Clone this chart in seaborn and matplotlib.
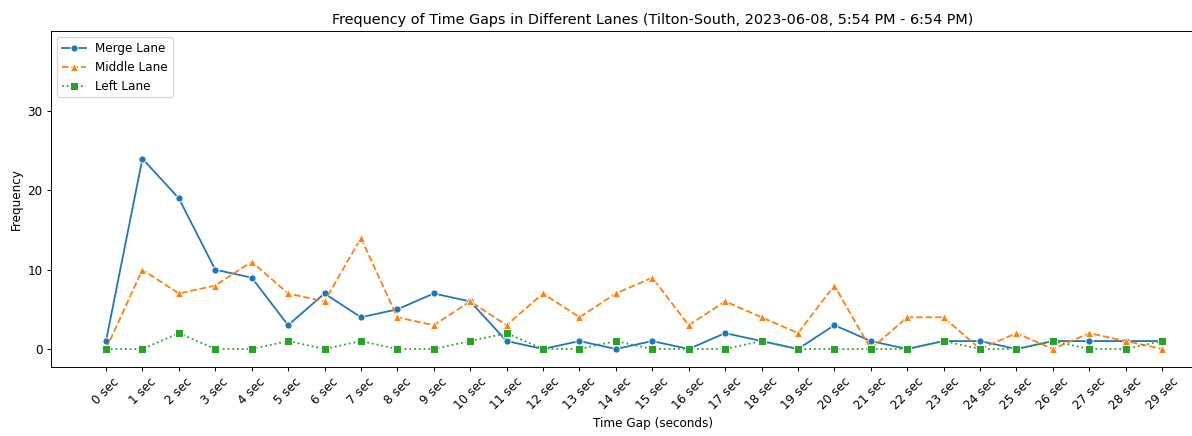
import pandas as pd
import matplotlib
matplotlib.use("Agg")
import matplotlib.pyplot as plt
import seaborn as sns

# Time gap values (seconds) and tick labels
time_gaps = list(range(30))
tick_labels = [f"{t} sec" for t in time_gaps]

# Frequency per lane
merge_lane = [1, 24, 19, 10, 9, 3, 7, 4, 5, 7, 6, 1, 0, 1, 0, 1, 0, 2, 1, 0, 3, 1, 0, 1, 1, 0, 1, 1, 1, 1]
middle_lane = [0, 10, 7, 8, 11, 7, 6, 14, 4, 3, 6, 3, 7, 4, 7, 9, 3, 6, 4, 2, 8, 0, 4, 4, 0, 2, 0, 2, 1, 0]
left_lane = [0, 0, 2, 0, 0, 1, 0, 1, 0, 0, 1, 2, 0, 0, 1, 0, 0, 0, 1, 0, 0, 0, 0, 1, 0, 0, 1, 0, 0, 1]

df = pd.DataFrame({
    "gap": time_gaps,
    "Merge Lane": merge_lane,
    "Middle Lane": middle_lane,
    "Left Lane": left_lane,
})

DPI = 86
W, H = 1192, 436
fig = plt.figure(figsize=(W / DPI, H / DPI), dpi=DPI)
# the original axes runs past the right edge of the cropped image
ax = fig.add_axes([51 / W, 69 / H, 1204 / W, 336 / H])

# Plot each lane
sns.lineplot(data=df, x="gap", y="Merge Lane", marker="o", linestyle="-", label="Merge Lane", ax=ax)
sns.lineplot(data=df, x="gap", y="Middle Lane", marker="^", linestyle="--", label="Middle Lane", ax=ax)
sns.lineplot(data=df, x="gap", y="Left Lane", marker="s", linestyle=":", label="Left Lane", ax=ax)

ax.set_xticks(time_gaps)
ax.set_xticklabels(tick_labels, rotation=45)
ax.set_xlim(-1.51, 31.55)
ax.set_ylim(-2.27, 40.1)
ax.set_yticks([0, 10, 20, 30])
ax.set_xlabel("Time Gap (seconds)")
ax.set_ylabel("Frequency")
ax.set_title("Frequency of Time Gaps in Different Lanes (Tilton-South, 2023-06-08, 5:54 PM - 6:54 PM)")
ax.legend(loc="upper left")

fig.savefig("out.png", dpi=DPI)
